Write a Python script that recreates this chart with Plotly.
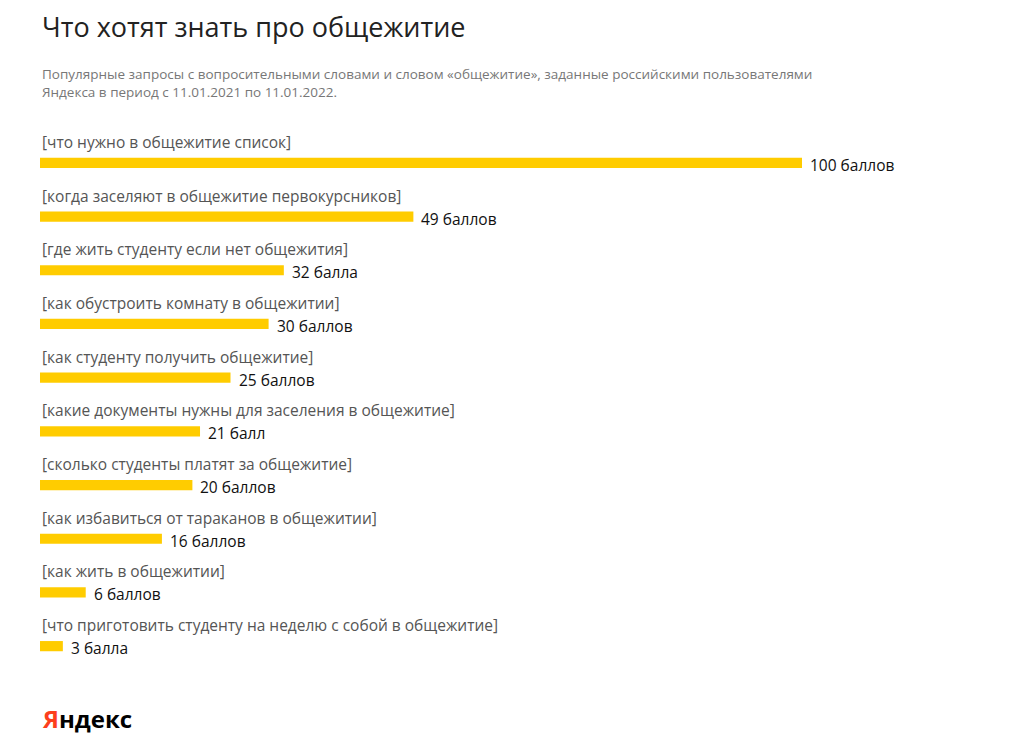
import plotly.graph_objects as go

queries = ["[что нужно в общежитие список]",
           "[когда заселяют в общежитие первокурсников]",
           "[где жить студенту если нет общежития]",
           "[как обустроить комнату в общежитии]",
           "[как студенту получить общежитие]",
           "[какие документы нужны для заселения в общежитие]",
           "[сколько студенты платят за общежитие]",
           "[как избавиться от тараканов в общежитии]",
           "[как жить в общежитии]",
           "[что приготовить студенту на неделю с собой в общежитие]"]
scores = [100, 49, 32, 30, 25, 21, 20, 16, 6, 3]
score_labels = ["100 баллов", "49 баллов", "32 балла", "30 баллов", "25 баллов",
                "21 балл", "20 баллов", "16 баллов", "6 баллов", "3 балла"]

pos = list(range(len(scores)))
F = "Open Sans, Noto Sans, sans-serif"

fig = go.Figure(go.Bar(x=scores, y=pos, orientation="h", width=0.19,
                       marker=dict(color="#FFCC00", line=dict(width=0)),
                       hoverinfo="skip"))

ann = []
for i, (q, s, l) in enumerate(zip(queries, scores, score_labels)):
    ann.append(dict(x=0, y=i, text=q, xref="x", yref="y", xanchor="left", yanchor="middle",
                    yshift=21, showarrow=False, font=dict(size=15.5, color="#555", family=F)))
    ann.append(dict(x=s, y=i, text=l, xref="x", yref="y", xanchor="left", yanchor="middle",
                    xshift=6, yshift=-2, showarrow=False, font=dict(size=15.5, color="#111", family=F)))

ann.append(dict(x=32, y=733-22, xref="paper", yref="paper", text="", showarrow=False))
ann = ann[:-1]
ann.append(dict(xref="paper", yref="paper", x=-0.0, y=1.0, yshift=128-22+4, xanchor="left", yanchor="middle",
                text="Что хотят знать про общежитие", showarrow=False,
                font=dict(size=27, color="#222", family=F)))
ann.append(dict(xref="paper", yref="paper", x=0.0, y=1.0, yshift=128-75, xanchor="left", yanchor="middle",
                align="left",
                text="Популярные запросы с вопросительными словами и словом «общежитие», заданные российскими пользователями<br>Яндекса в период с 11.01.2021 по 11.01.2022.",
                showarrow=False, font=dict(size=13.5, color="#777", family=F)))
ann.append(dict(xref="paper", yref="paper", x=0.0, y=0.0, yshift=-(710-665), xanchor="left", yanchor="middle",
                text="<b><span style='color:#FC3F1D'>Я</span>ндекс</b>", showarrow=False,
                font=dict(size=24, color="#000", family=F)))

fig.update_layout(
    width=1010, height=733, margin=dict(l=32, r=216, t=128, b=68),
    paper_bgcolor="white", plot_bgcolor="white", showlegend=False,
    xaxis=dict(range=[0, 100], visible=False, fixedrange=True),
    yaxis=dict(range=[9.5, -0.5], visible=False, fixedrange=True),
    annotations=ann,
)
fig.write_html("out.html")
